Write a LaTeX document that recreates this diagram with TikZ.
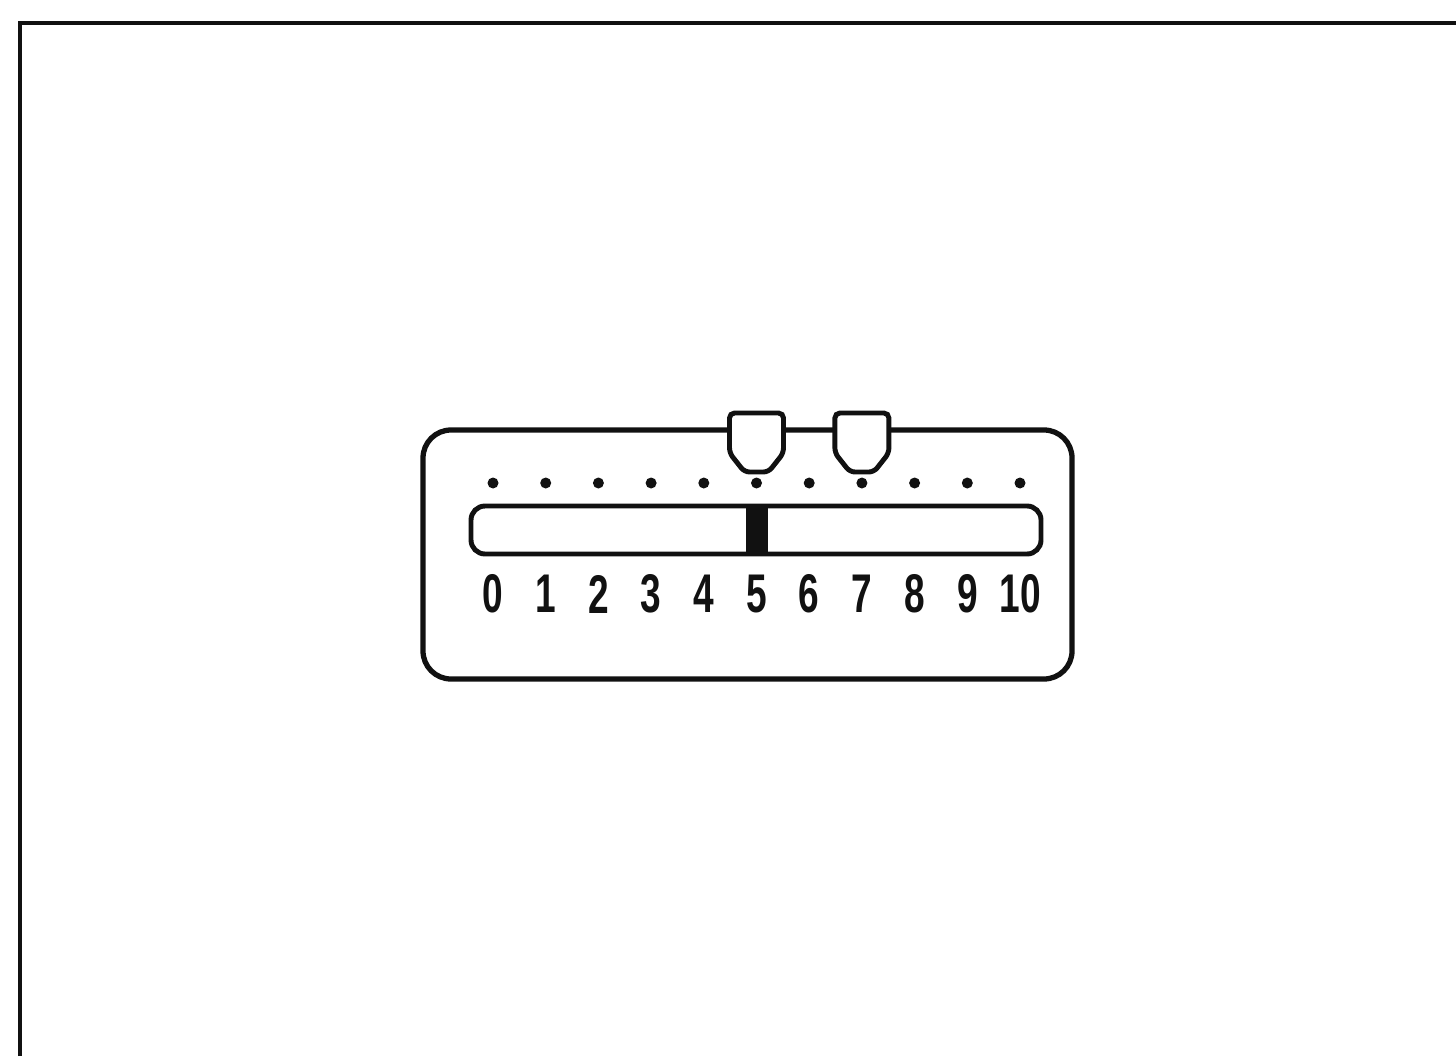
\documentclass[tikz,border=0pt]{standalone}
\usepackage{fontspec}
\usepackage{tikz}
\usetikzlibrary{positioning}
\newfontfamily\scalefont{Liberation Sans}[FakeStretch=0.68]
\definecolor{ink}{HTML}{111111}

\begin{document}
\begin{tikzpicture}[
    panelbox/.style={draw=ink,line width=1.5pt,rounded corners=0.28cm,inner sep=0pt,outer sep=0pt},
    barbox/.style={draw=ink,line width=1.4pt,rounded corners=0.14cm,inner sep=0pt,outer sep=0pt},
    tickdot/.style={circle,fill=ink,inner sep=0pt,minimum size=0.11cm},
    numlabel/.style={text=ink,inner sep=0pt,font=\scalefont\bfseries\fontsize{15.5}{15.5}\selectfont},
    tabline/.style={draw=ink,fill=white,line width=1.4pt,rounded corners=0.05cm}]
  \useasboundingbox (0,0) rectangle (14.56,10.56);
  % page frame
  \coordinate (fb) at (0.20,0);
  \coordinate (fc) at (0.20,10.33);
  \coordinate (fr) at (14.56,10.33);
  \draw[ink,line width=1.4pt] (fb) -- (fc) -- (fr);
  % scale panel
  \node[panelbox,minimum width=6.49cm,minimum height=2.49cm] (panel) at (7.475,5.015) {};
  \node[barbox,minimum width=5.70cm,minimum height=0.48cm] (bar) at (7.56,5.26) {};
  \node[fill=ink,inner sep=0pt,minimum width=0.22cm,minimum height=0.48cm] (mark) at (7.57,5.26) {};
  \foreach \i in {0,...,10} {
    \node[tickdot] (d\i) at ({4.93+0.527*\i},5.73) {};
    \node[numlabel] (n\i) at ({4.93+0.527*\i},4.62) {\i};
  }
  % sliders
  \foreach \k in {5,7}
    \draw[tabline,shift={(d\k.center)}] (-0.12,0.11) -- (-0.27,0.30) -- (-0.27,0.70)
      -- (0.27,0.70) -- (0.27,0.30) -- (0.12,0.11) -- cycle;
\end{tikzpicture}
\end{document}
